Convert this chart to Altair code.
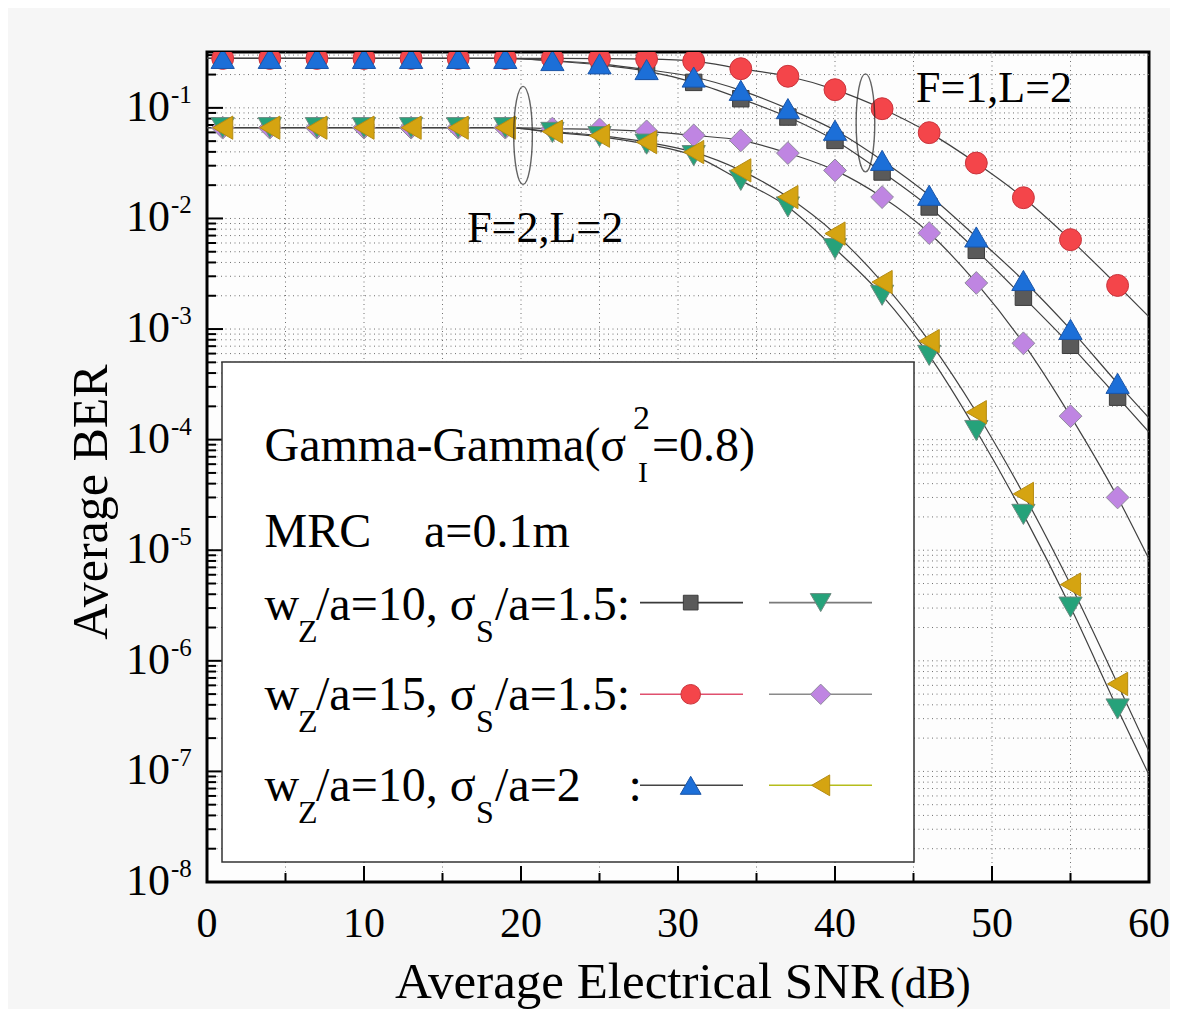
import altair as alt
import pandas as pd

# ---------------- data ----------------
snr = [1, 4, 7, 10, 13, 16, 19, 22, 25, 28, 31, 34, 37, 40, 43, 46, 49, 52, 55, 58]

# F=1, L=2
ber_sq = [0.28, 0.28, 0.28, 0.28, 0.28, 0.28, 0.28, 0.265, 0.245, 0.215, 0.17, 0.121,
          0.0826, 0.0508, 0.0263, 0.0127, 0.00515, 0.00194, 7.13e-4, 2.42e-4]
ber_ci = [0.28, 0.28, 0.28, 0.28, 0.28, 0.28, 0.28, 0.28, 0.279, 0.276, 0.265, 0.226,
          0.193, 0.146, 0.0983, 0.0597, 0.0317, 0.0154, 0.00643, 0.00248]
ber_tu = [0.28, 0.28, 0.28, 0.28, 0.28, 0.28, 0.28, 0.268, 0.25, 0.222, 0.19, 0.144,
          0.0984, 0.0627, 0.0335, 0.0162, 0.0068, 0.00275, 9.93e-4, 3.23e-4]
# F=2, L=2
ber_td = [0.0662, 0.0662, 0.0662, 0.0662, 0.0662, 0.0662, 0.0662, 0.060, 0.055, 0.047,
          0.037, 0.0221, 0.0127, 0.00533, 0.00202, 5.78e-4, 1.21e-4, 2.11e-5, 3.06e-6, 3.67e-7]
ber_di = [0.0662, 0.0662, 0.0662, 0.0662, 0.0662, 0.0662, 0.0662, 0.065, 0.064, 0.0613,
          0.0564, 0.0508, 0.039, 0.0272, 0.0156, 0.00738, 0.00261, 7.43e-4, 1.63e-4, 3.0e-5]
ber_tl = [0.0662, 0.0662, 0.0662, 0.0662, 0.0662, 0.0662, 0.0662, 0.061, 0.056, 0.049,
          0.0398, 0.0272, 0.0156, 0.0073, 0.00266, 7.78e-4, 1.77e-4, 3.23e-5, 4.89e-6, 6.18e-7]

# analytical curves run from the left edge to the right edge
curve_snr = [0, 60]
curve_sq = [0.28, 1.17e-4]
curve_ci = [0.28, 1.29e-3]
curve_tu = [0.28, 1.57e-4]
curve_td = [0.0662, 9.3e-8]
curve_di = [0.0662, 8.3e-6]
curve_tl = [0.0662, 1.51e-7]

x_major = [0, 10, 20, 30, 40, 50, 60]
x_minor = [5, 15, 25, 35, 45, 55]
y_exponents = [-8, -7, -6, -5, -4, -3, -2, -1]
y_mantissas = [2, 3, 4, 5, 6, 7, 8, 9]
y_top = 0.32

annotations = ["F=2,L=2", "F=1,L=2"]
ann_snr = [16.57, 45.16]
ann_ber = [0.00612, 0.1128]
ellipse_snr = [20.13, 41.94]
ellipse_ber = [0.0564, 0.0732]

# ---------------- styling ----------------
FONT = "Liberation Serif"
W, H = 942, 830

series = [
    # name, values, curve, shape, size, fill, edge, legend sample line colour, legend row, legend col
    ("sq", ber_sq, curve_sq, "square", 270, "#5a5a5a", "#3c3c3c", "#3a3a3a", 0, 0),
    ("ci", ber_ci, curve_ci, "circle", 480, "#f4454a", "#c9343c", "#e0506e", 1, 0),
    ("tu", ber_tu, curve_tu, "triangle-up", 540, "#1c6fd8", "#1a55a8", "#444444", 2, 0),
    ("di", ber_di, curve_di, "diamond", 520, "#bf85e2", "#8e8a9c", "#8a8a8a", 1, 1),
    ("td", ber_td, curve_td, "triangle-down", 540, "#26a27a", "#6c8a80", "#7a7a7a", 0, 1),
    ("tl", ber_tl, curve_tl, "triangle-left", 540, "#d5a411", "#b48c14", "#b5bd1c", 2, 1),
]

xscale = alt.Scale(domain=[0, 60], nice=False, zero=False)
yscale = alt.Scale(type="log", domain=[1e-8, y_top], nice=False)


def X(f):
    return alt.X(f, type="quantitative", scale=xscale, axis=None)


def Y(f):
    return alt.Y(f, type="quantitative", scale=yscale, axis=None)


y_major = [10.0 ** e for e in y_exponents]
y_minor = [m * 10.0 ** e for e in y_exponents for m in y_mantissas if m * 10.0 ** e <= y_top]

layers = []

# dotted grid
grid_h = alt.Chart(pd.DataFrame({"v": y_major[1:] + y_minor})).mark_rule(
    color="#707070", strokeWidth=1, strokeDash=[1, 3.5]).encode(y=Y("v"))
grid_v = alt.Chart(pd.DataFrame({"v": x_minor + x_major[1:-1]})).mark_rule(
    color="#707070", strokeWidth=1, strokeDash=[1, 3.5]).encode(x=X("v"))
layers += [grid_h, grid_v]

# tick labels: y = 10 with exponent, x = numbers
ylab_df = pd.DataFrame({"v": y_major, "t": [str(e) for e in y_exponents]})
layers.append(alt.Chart(ylab_df).mark_text(text="10", font=FONT, fontSize=44, align="right",
                                           baseline="middle", color="black").encode(
    y=Y("v"), x=alt.value(-37)))
layers.append(alt.Chart(ylab_df).mark_text(font=FONT, fontSize=25, align="left",
                                           baseline="middle", dy=-13, color="black").encode(
    y=Y("v"), x=alt.value(-36), text="t:N"))
xlab_df = pd.DataFrame({"v": x_major, "t": [str(v) for v in x_major]})
layers.append(alt.Chart(xlab_df).mark_text(font=FONT, fontSize=42, align="center",
                                           baseline="alphabetic", color="black").encode(
    x=X("v"), y=alt.value(H + 55), text="t:N"))

# inward ticks
layers.append(alt.Chart(pd.DataFrame({"v": y_major})).mark_rule(color="black", strokeWidth=2).encode(
    y=Y("v"), x=alt.value(0), x2=alt.value(16)))
layers.append(alt.Chart(pd.DataFrame({"v": y_minor})).mark_rule(color="black", strokeWidth=2).encode(
    y=Y("v"), x=alt.value(0), x2=alt.value(9)))
layers.append(alt.Chart(pd.DataFrame({"v": x_major})).mark_rule(color="black", strokeWidth=2).encode(
    x=X("v"), y=alt.value(H), y2=alt.value(H - 16)))
layers.append(alt.Chart(pd.DataFrame({"v": x_minor})).mark_rule(color="black", strokeWidth=2).encode(
    x=X("v"), y=alt.value(H), y2=alt.value(H - 9)))

# curves
for name, vals, curve, *_ in series:
    df = pd.DataFrame({"snr": [curve_snr[0]] + snr + [curve_snr[1]],
                       "ber": [curve[0]] + vals + [curve[1]]})
    layers.append(alt.Chart(df).mark_line(color="#404040", strokeWidth=1.2,
                                          interpolate="monotone", clip=True).encode(
        x=X("snr"), y=Y("ber")))

# markers
for name, vals, curve, shape, size, fill, edge, *_ in series:
    df = pd.DataFrame({"snr": snr, "ber": vals})
    layers.append(alt.Chart(df).mark_point(filled=True, shape=shape, size=size, fill=fill,
                                           stroke=edge, strokeWidth=1, opacity=1,
                                           fillOpacity=1, clip=True).encode(
        x=X("snr"), y=Y("ber")))

# ellipses and group labels
ell_df = pd.DataFrame({"snr": ellipse_snr, "ber": ellipse_ber})
ellipse_path = "M0,-1 A0.19,1 0 1,1 0,1 A0.19,1 0 1,1 0,-1 Z"
layers.append(alt.Chart(ell_df).mark_point(shape=ellipse_path, size=9604, filled=False,
                                           stroke="#222222", strokeWidth=1.4).encode(
    x=X("snr"), y=Y("ber")))
ann_df = pd.DataFrame({"snr": ann_snr, "ber": ann_ber, "t": annotations})
layers.append(alt.Chart(ann_df).mark_text(font=FONT, fontSize=44, align="left",
                                          baseline="alphabetic", color="black").encode(
    x=X("snr"), y=Y("ber"), text="t:N"))

# ---------------- legend box (drawn) ----------------
one = pd.DataFrame({"k": [0]})
layers.append(alt.Chart(one).mark_rect(fill="white", stroke="#333333", strokeWidth=1.5).encode(
    x=alt.value(15), x2=alt.value(707), y=alt.value(310), y2=alt.value(810)))


def txt(s, x, y, size=48):
    return alt.Chart(one).mark_text(text=s, font=FONT, fontSize=size, align="left",
                                    baseline="alphabetic", color="black").encode(
        x=alt.value(x), y=alt.value(y))


layers += [
    txt("Gamma-Gamma(σ", 57.5, 409.3),
    txt("2", 426, 376.5, 34),
    txt("I", 431, 430, 30),
    txt("=0.8)", 445, 409.3),
    txt("MRC", 57.5, 495),
    txt("a=0.1m", 217, 495),
]
row_base = [567.6, 658.3, 749.3]
row_wz = ["10", "15", "10"]
row_ss = ["1.5:", "1.5:", "2"]
for base, wz, ss in zip(row_base, row_wz, row_ss):
    layers += [
        txt("w", 57.5, base),
        txt("Z", 91, base + 22, 32),
        txt("/a=" + wz + ", σ", 109, base),
        txt("S", 269, base + 22, 32),
        txt("/a=" + ss, 288, base),
    ]
layers.append(txt(":", 421.5, row_base[2]))

row_y = [550.6, 642.3, 733.3]
col_x = [(433, 536, 483.7), (562, 665, 613.7)]
for name, vals, curve, shape, size, fill, edge, lcol, r, c in series:
    x1, x2, xm = col_x[c]
    layers.append(alt.Chart(one).mark_rule(color=lcol, strokeWidth=1.6).encode(
        x=alt.value(x1), x2=alt.value(x2), y=alt.value(row_y[r])))
    layers.append(alt.Chart(one).mark_point(filled=True, shape=shape, size=size * 0.8,
                                            fill=fill, stroke=edge, strokeWidth=1,
                                            opacity=1).encode(
        x=alt.value(xm), y=alt.value(row_y[r])))

# axis titles
layers.append(alt.Chart(one).mark_text(text="Average BER", font=FONT, fontSize=50, angle=270,
                                       align="center", baseline="alphabetic",
                                       color="black").encode(x=alt.value(-100), y=alt.value(450)))
layers.append(alt.Chart(one).mark_text(text="Average Electrical SNR", font=FONT, fontSize=51,
                                       align="left", baseline="alphabetic",
                                       color="black").encode(x=alt.value(188), y=alt.value(946)))
layers.append(alt.Chart(one).mark_text(text="(dB)", font=FONT, fontSize=44,
                                       align="left", baseline="alphabetic",
                                       color="black").encode(x=alt.value(683), y=alt.value(946)))

chart = alt.layer(*layers).properties(
    width=W, height=H,
    autosize=alt.AutoSizeParams(type="none"),
    padding={"left": 199, "top": 44, "right": 21, "bottom": 127},
    background="#f6f6f6",
).configure_view(stroke="black", strokeWidth=3, fill="#fdfdfd")

chart.save("out.html", embed_options={"renderer": "svg", "actions": False})
